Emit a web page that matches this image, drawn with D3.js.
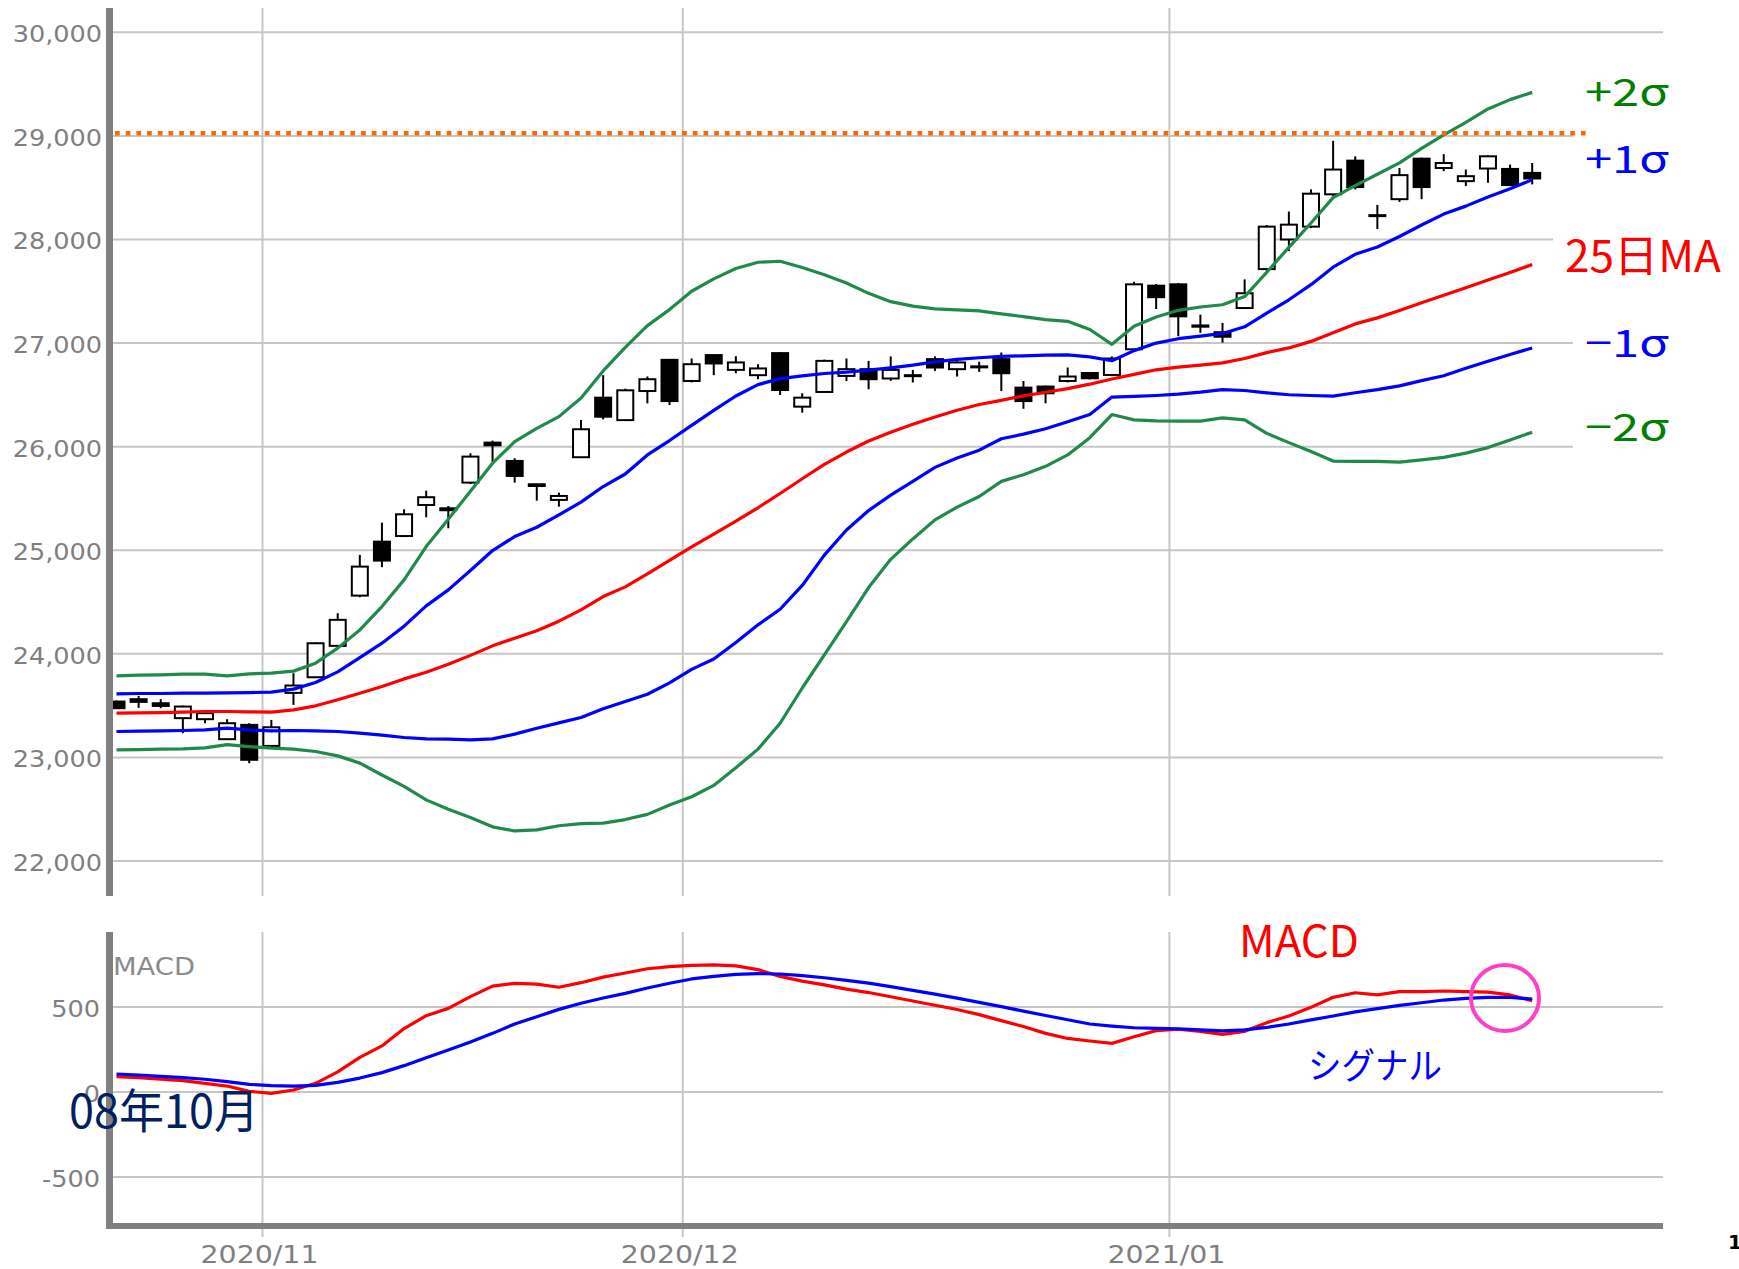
<!DOCTYPE html>
<html>
<head>
<meta charset="utf-8">
<script src="https://cdn.jsdelivr.net/npm/d3@7"></script>
<style>
  body { margin: 0; background: #fff; }
  svg text { font-family: "DejaVu Sans", Verdana, sans-serif; }
  .note { font-family: "Noto Sans CJK JP", "Noto Sans", sans-serif !important; }
</style>
</head>
<body>
<div id="chart"></div>
<script>

// trading days shown (2020/10/22 - 2021/01/27)
var dates = ["2020-10-22","2020-10-23","2020-10-26","2020-10-27","2020-10-28","2020-10-29","2020-10-30",
  "2020-11-02","2020-11-04","2020-11-05","2020-11-06","2020-11-09","2020-11-10","2020-11-11","2020-11-12","2020-11-13",
  "2020-11-16","2020-11-17","2020-11-18","2020-11-19","2020-11-20","2020-11-24","2020-11-25","2020-11-26","2020-11-27","2020-11-30",
  "2020-12-01","2020-12-02","2020-12-03","2020-12-04","2020-12-07","2020-12-08","2020-12-09","2020-12-10","2020-12-11",
  "2020-12-14","2020-12-15","2020-12-16","2020-12-17","2020-12-18","2020-12-21","2020-12-22","2020-12-23","2020-12-24","2020-12-25",
  "2020-12-28","2020-12-29","2020-12-30",
  "2021-01-04","2021-01-05","2021-01-06","2021-01-07","2021-01-08","2021-01-12","2021-01-13","2021-01-14","2021-01-15",
  "2021-01-18","2021-01-19","2021-01-20","2021-01-21","2021-01-22","2021-01-25","2021-01-26","2021-01-27"];

var open = [23539,23562,23523,23379,23369,23176,23314,23111,23623,23774,24077,24562,25083,25137,25437,25405,25653,26039,25862,25637,25486,25898,
  26473,26256,26537,26838,26634,26884,26741,26690,26903,26386,26528,26683,26748,26658,26690,26845,26748,26775,26845,26570,26580,26634,26711,
  26692,26940,27554,27567,27170,27105,27338,27714,28000,28124,28436,28761,28235,28389,28780,28690,28563,28685,28681,28643];
var high = [23550,23594,23562,23500,23440,23369,23330,23362,23813,24110,24392,24955,25267,25395,25575,25427,25936,26058,25888,25640,25556,26258,
  26690,26560,26677,26845,26851,26890,26873,26796,26910,26515,26840,26851,26828,26871,26741,26871,26825,26820,26909,26634,26590,26764,26720,
  26870,27592,27570,27580,27274,27195,27615,28140,28270,28484,28952,28802,28334,28690,28790,28824,28675,28810,28723,28738];
var low = [23470,23478,23475,23234,23330,23170,22944,23100,23507,23770,24070,24546,24837,25130,25318,25212,25640,25855,25653,25479,25421,25890,
  26263,26250,26418,26401,26620,26690,26709,26651,26499,26328,26520,26634,26554,26635,26619,26731,26677,26722,26537,26366,26418,26620,26650,
  26680,26930,27329,27067,27099,27004,27330,27700,27888,28110,28420,28484,28102,28363,28389,28659,28516,28548,28520,28532];
var close = [23475,23536,23497,23491,23427,23330,22977,23291,23694,24102,24328,24842,24900,25347,25512,25386,25904,26013,25717,25620,25524,26168,
  26289,26544,26651,26440,26796,26803,26813,26755,26547,26473,26828,26748,26651,26741,26683,26764,26813,26768,26709,26440,26515,26677,26660,
  26851,27567,27443,27258,27158,27061,27481,28124,28143,28442,28675,28506,28229,28621,28506,28738,28611,28803,28525,28589];

// bollinger bands (25 day)
var ma25 = [23427,23430,23433,23437,23443,23443,23440,23437,23459,23498,23556,23620,23684,23758,23823,23900,23985,24077,24151,24222,24315,24424,24553,
  24646,24772,24902,25032,25155,25282,25410,25548,25690,25828,25948,26054,26140,26216,26287,26351,26407,26447,26490,26525,26560,
  26603,26653,26698,26742,26768,26787,26809,26851,26908,26953,27016,27099,27185,27243,27315,27389,27462,27535,27608,27682,27758];
var up1 = [23613,23617,23617,23620,23620,23623,23626,23630,23659,23723,23826,23964,24103,24267,24463,24617,24804,24997,25132,25222,25341,25465,25615,
  25736,25920,26059,26205,26350,26489,26599,26657,26683,26706,26719,26738,26761,26787,26819,26842,26858,26871,26877,26884,26886,
  26867,26829,26927,27000,27042,27067,27093,27157,27290,27418,27564,27733,27857,27927,28029,28140,28245,28322,28411,28490,28576];
var up2 = [23787,23794,23797,23804,23804,23787,23807,23813,23833,23910,24055,24231,24456,24714,25035,25300,25570,25840,26048,26177,26290,26470,26731,
  26958,27168,27323,27500,27620,27720,27780,27790,27730,27660,27580,27480,27400,27356,27330,27320,27310,27281,27255,27226,27210,
  27131,26988,27163,27252,27316,27348,27370,27449,27684,27924,28159,28404,28520,28630,28740,28880,29010,29130,29260,29350,29420];
var dn1 = [23250,23253,23256,23260,23266,23282,23266,23256,23260,23256,23250,23234,23215,23192,23179,23176,23170,23179,23225,23281,23333,23386,23469,
  23540,23610,23720,23850,23950,24110,24280,24430,24660,24953,25196,25383,25532,25665,25800,25891,25966,26076,26121,26173,26240,
  26310,26479,26485,26494,26507,26526,26551,26542,26520,26501,26494,26488,26520,26551,26587,26637,26685,26756,26825,26889,26953];
var dn2 = [23073,23076,23080,23083,23092,23124,23105,23089,23080,23057,23015,22945,22830,22720,22590,22500,22420,22330,22290,22300,22340,22360,22366,
  22400,22450,22540,22620,22730,22900,23080,23330,23670,23990,24310,24640,24912,25109,25293,25416,25519,25665,25729,25810,25920,
  26087,26310,26259,26249,26246,26246,26278,26259,26128,26039,25953,25861,25857,25857,25851,25873,25896,25937,25991,26064,26140];

// MACD panel
var macd = [90,84,76,67,51,35,4,-8,12,51,118,204,271,373,449,492,561,623,639,635,616,643,676,
  700,725,738,745,748,742,720,680,652,630,605,585,560,535,510,485,455,420,385,345,315,300,
  286,325,361,369,357,339,357,408,447,498,557,584,571,590,590,594,590,588,571,537];
var signal = [106,100,92,84,75,61,45,37,35,39,57,82,114,155,202,247,294,345,400,443,486,522,553,
  580,612,640,665,680,692,696,694,685,672,657,640,620,598,576,552,527,502,476,450,425,400,
  388,378,374,372,365,359,365,380,400,424,447,471,490,510,525,541,551,557,557,547];

var priceTicks = [22000,23000,24000,25000,26000,27000,28000,29000,30000];
var macdTicks = [-500,0,500];
var resistance = 29025;

var bandLabels = [
  {text: "+2σ", color: "#008000"},
  {text: "+1σ", color: "#0000ff"},
  {text: "25日MA", color: "#ff0000"},
  {text: "−1σ", color: "#0000ff"},
  {text: "−2σ", color: "#008000"}
];

var W = 1739, H = 1269;
var left = 113, right = 1663;
var mainTop = 8, mainBottom = 896;
var subTop = 932, subBottom = 1226;

var svg = d3.select("#chart").append("svg")
  .attr("width", W).attr("height", H);

var x = d3.scaleLinear().domain([0, dates.length - 1]).range([116.5, 1532.2]);
var y = d3.scaleLinear().domain([22000, 30000]).range([861, 32.3]);
var ym = d3.scaleLinear().domain([-500, 500]).range([1177, 1007]);

// month boundaries
var parse = d3.timeParse("%Y-%m-%d");
var months = [];
dates.forEach(function(d, i) {
  if (i > 0 && dates[i - 1].slice(5, 7) !== d.slice(5, 7)) {
    months.push({i: i, label: d3.timeFormat("%Y/%m")(parse(d))});
  }
});
var monthX = function(m) { return x(m.i - 0.4); };

var gridColor = "#c6c6c6";

// main panel grid
svg.append("g").selectAll("line").data(priceTicks).enter().append("line")
  .attr("x1", left).attr("x2", right)
  .attr("y1", d => y(d)).attr("y2", d => y(d))
  .attr("stroke", gridColor).attr("stroke-width", 2);

svg.append("g").selectAll("line").data(months).enter().append("line")
  .attr("x1", monthX).attr("x2", monthX)
  .attr("y1", mainTop).attr("y2", mainBottom)
  .attr("stroke", gridColor).attr("stroke-width", 2);

// candles
var candles = svg.append("g");
var bw = 16;
dates.forEach(function(d, i) {
  var cx = x(i);
  candles.append("line")
    .attr("x1", cx).attr("x2", cx)
    .attr("y1", y(high[i])).attr("y2", y(low[i]))
    .attr("stroke", "#000").attr("stroke-width", 2);
  var top = y(Math.max(open[i], close[i]));
  var bot = y(Math.min(open[i], close[i]));
  var up = close[i] >= open[i];
  candles.append("rect")
    .attr("x", cx - bw / 2).attr("y", top)
    .attr("width", bw).attr("height", Math.max(bot - top, 1))
    .attr("fill", up ? "#fff" : "#000")
    .attr("stroke", "#000").attr("stroke-width", 2);
});

// bands
var line = d3.line().x((d, i) => x(i)).y(d => y(d));
var bands = [[dn2, "#1f8a4c"], [up2, "#1f8a4c"], [dn1, "#0000ff"], [up1, "#0000ff"], [ma25, "#ff0000"]];
bands.forEach(function(b) {
  svg.append("path").datum(b[0])
    .attr("d", line)
    .attr("fill", "none").attr("stroke", b[1])
    .attr("stroke-width", 3.2).attr("stroke-linejoin", "round");
});

// main left bar
svg.append("line")
  .attr("x1", 109.5).attr("x2", 109.5)
  .attr("y1", mainTop).attr("y2", mainBottom)
  .attr("stroke", "#808080").attr("stroke-width", 7);

function stretch(sel, k) {
  sel.each(function() {
    var w = this.getComputedTextLength();
    this.setAttribute("textLength", w * k);
    this.setAttribute("lengthAdjust", "spacingAndGlyphs");
  });
}

// price axis labels
var yAxis = svg.append("g").attr("transform", "translate(102,2)")
  .call(d3.axisLeft(y).tickValues(priceTicks).tickSize(0).tickPadding(0).tickFormat(d3.format(",")));
yAxis.select(".domain").remove();
yAxis.selectAll("text")
  .attr("fill", "#7f7f7f").style("font-size", "23px")
  .style("font-family", "'DejaVu Sans', Verdana, sans-serif");
stretch(yAxis.selectAll("text"), 1.11);

// MACD panel grid
svg.append("g").selectAll("line").data(macdTicks).enter().append("line")
  .attr("x1", left).attr("x2", right)
  .attr("y1", d => ym(d)).attr("y2", d => ym(d))
  .attr("stroke", gridColor).attr("stroke-width", 2);

svg.append("g").selectAll("line").data(months).enter().append("line")
  .attr("x1", monthX).attr("x2", monthX)
  .attr("y1", subTop).attr("y2", subBottom + 11)
  .attr("stroke", gridColor).attr("stroke-width", 2);

var mline = d3.line().x((d, i) => x(i)).y(d => ym(d));
svg.append("path").datum(macd).attr("d", mline)
  .attr("fill", "none").attr("stroke", "#ff0000").attr("stroke-width", 3.2).attr("stroke-linejoin", "round");
svg.append("path").datum(signal).attr("d", mline)
  .attr("fill", "none").attr("stroke", "#0000ff").attr("stroke-width", 3.2).attr("stroke-linejoin", "round");

svg.append("line")
  .attr("x1", 109.5).attr("x2", 109.5)
  .attr("y1", subTop).attr("y2", subBottom + 3)
  .attr("stroke", "#808080").attr("stroke-width", 7);
svg.append("line")
  .attr("x1", 106).attr("x2", right)
  .attr("y1", subBottom).attr("y2", subBottom)
  .attr("stroke", "#808080").attr("stroke-width", 6);

var mAxis = svg.append("g").attr("transform", "translate(100,2)")
  .call(d3.axisLeft(ym).tickValues(macdTicks).tickSize(0).tickPadding(0).tickFormat(d => String(d)));
mAxis.select(".domain").remove();
mAxis.selectAll("text")
  .attr("fill", "#7f7f7f").style("font-size", "23px")
  .style("font-family", "'DejaVu Sans', Verdana, sans-serif");
stretch(mAxis.selectAll("text"), 1.11);

svg.append("text")
  .attr("x", 113).attr("y", 975)
  .attr("fill", "#8a8a8a").style("font-size", "24px")
  .attr("textLength", 82).attr("lengthAdjust", "spacingAndGlyphs")
  .text("MACD");

// month labels
svg.append("g").selectAll("text").data(months).enter().append("text")
  .attr("x", d => monthX(d) - 3).attr("y", 1263)
  .attr("text-anchor", "middle")
  .attr("fill", "#7f7f7f").style("font-size", "24px")
  .attr("textLength", 118).attr("lengthAdjust", "spacingAndGlyphs")
  .text(d => d.label);

// annotations
var boxes = [[1573, 55, 60], [1573, 118, 66], [1553, 200, 86], [1573, 306, 70], [1573, 398, 62]];
boxes.forEach(function(b) {
  svg.append("rect").attr("x", b[0]).attr("y", b[1])
    .attr("width", W - b[0]).attr("height", b[2]).attr("fill", "#fff");
});

svg.append("line")
  .attr("x1", left + 2).attr("x2", 1588)
  .attr("y1", y(resistance)).attr("y2", y(resistance))
  .attr("stroke", "#ff6600").attr("stroke-width", 4.5)
  .attr("stroke-dasharray", "4.7 6");

var labelPos = [[1585, 106, 38, 84], [1585, 173, 38, 84], [1565, 272, 44, 156], [1585, 357, 38, 84], [1585, 441, 38, 84]];
bandLabels.forEach(function(l, k) {
  var p = labelPos[k];
  svg.append("text").attr("class", "note")
    .attr("x", p[0]).attr("y", p[1])
    .attr("fill", l.color).style("font-size", p[2] + "px")
    .attr("textLength", p[3]).attr("lengthAdjust", "spacingAndGlyphs")
    .text(l.text);
});

svg.append("text").attr("class", "note")
  .attr("x", 1239).attr("y", 957)
  .attr("fill", "#ff0000").style("font-size", "44px")
  .attr("textLength", 120).attr("lengthAdjust", "spacingAndGlyphs")
  .text("MACD");

svg.append("text").attr("class", "note")
  .attr("x", 1308).attr("y", 1079)
  .attr("fill", "#0000ff").style("font-size", "36px")
  .attr("textLength", 134).attr("lengthAdjust", "spacingAndGlyphs")
  .text("シグナル");

svg.append("text").attr("class", "note")
  .attr("x", 69).attr("y", 1128)
  .attr("fill", "#002060").style("font-size", "47px")
  .attr("textLength", 190).attr("lengthAdjust", "spacingAndGlyphs")
  .text("08年10月");

svg.append("ellipse")
  .attr("cx", 1505).attr("cy", 998).attr("rx", 34).attr("ry", 33)
  .attr("fill", "none").attr("stroke", "#ff3fc8").attr("stroke-width", 4);

svg.append("text")
  .attr("x", 1728).attr("y", 1249)
  .attr("fill", "#000").style("font-size", "20px").style("font-weight", "bold")
  .text("1");

</script>
</body>
</html>
